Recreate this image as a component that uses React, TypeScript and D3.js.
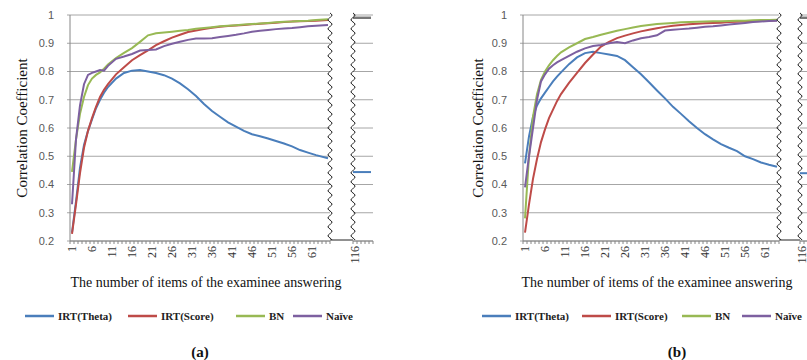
import * as d3 from 'd3'

// items shown left of the axis break (sampled along the curves)
const itemsA = [1, 2, 3, 4, 5, 6, 7, 8, 9, 10, 12, 14, 16, 18, 20, 22, 24, 26, 28, 30, 32, 34, 36, 38, 40, 42, 44, 46, 48, 50, 52, 54, 56, 58, 60, 62, 65]
const itemsB = [1, 2, 3, 4, 5, 6, 7, 8, 9, 10, 12, 14, 16, 18, 20, 22, 24, 26, 28, 30, 32, 34, 36, 38, 40, 42, 44, 46, 48, 50, 52, 54, 56, 58, 60, 62, 64]
// items right of the break
const tailItems = [115, 116, 117, 118, 119, 120]

const thetaA = [0.23, 0.34, 0.46, 0.54, 0.59, 0.63, 0.67, 0.7, 0.725, 0.745, 0.775, 0.795, 0.803, 0.805, 0.8, 0.795, 0.787, 0.775, 0.758, 0.737, 0.713, 0.685, 0.66, 0.64, 0.62, 0.605, 0.59, 0.578, 0.571, 0.563, 0.554, 0.545, 0.535, 0.522, 0.513, 0.504, 0.493]
const scoreA = [0.225, 0.33, 0.44, 0.53, 0.59, 0.635, 0.675, 0.71, 0.735, 0.755, 0.79, 0.815, 0.84, 0.858, 0.875, 0.893, 0.907, 0.92, 0.93, 0.94, 0.945, 0.95, 0.955, 0.958, 0.961, 0.963, 0.965, 0.967, 0.969, 0.971, 0.973, 0.975, 0.977, 0.978, 0.979, 0.98, 0.982]
const bnA = [0.445, 0.56, 0.65, 0.71, 0.752, 0.775, 0.788, 0.797, 0.81, 0.825, 0.848, 0.866, 0.883, 0.905, 0.928, 0.935, 0.938, 0.941, 0.944, 0.947, 0.951, 0.954, 0.957, 0.96, 0.962, 0.964, 0.966, 0.968, 0.97, 0.972, 0.974, 0.976, 0.977, 0.979, 0.98, 0.982, 0.985]
const naiveA = [0.33, 0.56, 0.68, 0.755, 0.788, 0.795, 0.8, 0.805, 0.803, 0.82, 0.845, 0.853, 0.862, 0.874, 0.876, 0.878, 0.89, 0.898, 0.905, 0.912, 0.917, 0.917, 0.918, 0.922, 0.926, 0.93, 0.935, 0.941, 0.944, 0.947, 0.95, 0.952, 0.954, 0.957, 0.96, 0.962, 0.965]

const thetaB = [0.475, 0.57, 0.64, 0.68, 0.705, 0.725, 0.745, 0.765, 0.782, 0.797, 0.826, 0.85, 0.865, 0.87, 0.865, 0.86, 0.855, 0.84, 0.815, 0.79, 0.762, 0.733, 0.705, 0.675, 0.65, 0.624, 0.6, 0.578, 0.56, 0.543, 0.53, 0.518, 0.5, 0.49, 0.478, 0.47, 0.463]
const scoreB = [0.23, 0.33, 0.42, 0.49, 0.55, 0.595, 0.635, 0.665, 0.695, 0.72, 0.76, 0.795, 0.83, 0.86, 0.888, 0.905, 0.918, 0.927, 0.935, 0.942, 0.948, 0.953, 0.958, 0.962, 0.965, 0.967, 0.969, 0.971, 0.972, 0.973, 0.975, 0.976, 0.977, 0.978, 0.979, 0.98, 0.981]
const bnB = [0.28, 0.5, 0.64, 0.72, 0.77, 0.8, 0.822, 0.84, 0.855, 0.868, 0.885, 0.9, 0.915, 0.922, 0.93, 0.937, 0.944, 0.95, 0.956, 0.961, 0.965, 0.968, 0.97, 0.972, 0.974, 0.975, 0.976, 0.977, 0.978, 0.978, 0.979, 0.98, 0.98, 0.981, 0.982, 0.982, 0.983]
const naiveB = [0.39, 0.5, 0.6, 0.7, 0.765, 0.79, 0.81, 0.822, 0.832, 0.84, 0.855, 0.87, 0.882, 0.89, 0.894, 0.9, 0.904, 0.9, 0.91, 0.918, 0.922, 0.928, 0.945, 0.948, 0.95, 0.952, 0.955, 0.958, 0.96, 0.963, 0.966, 0.969, 0.972, 0.975, 0.977, 0.979, 0.98]

const tailThetaA = [0.444, 0.444, 0.444, 0.444, 0.444, 0.444]
const tailThetaB = [0.44, 0.44, 0.44, 0.44, 0.44, 0.44]
const tailHigh = [0.99, 0.99, 0.99, 0.99, 0.99, 0.99]

const yTicks = [0.2, 0.3, 0.4, 0.5, 0.6, 0.7, 0.8, 0.9, 1]
const xTickLabels = [1, 6, 11, 16, 21, 26, 31, 36, 41, 46, 51, 56, 61]
const tailTickLabels = [116]
const seriesNames = ['IRT(Theta)', 'IRT(Score)', 'BN', 'Naïve']
const seriesColors = ['#4a7ebb', '#be4b48', '#98b954', '#7d60a0']

const SERIF = '"Liberation Serif", "DejaVu Serif", serif'
const SANS = '"Liberation Sans", Arial, sans-serif'
const TOP = 15
const BOTTOM = 241

function wavy(x, y0, y1) {
  const pts = d3.range(y0, y1 + 0.5, 1).map((y) => [x + 2 * Math.sin((y - y0) * (2 * Math.PI / 9)), y])
  return d3.line()(pts)
}

function Panel({ id, left, lastItem, breakL, breakR, items, series, tail, tailSeries, yLabelX, titleX, legendX, caption, captionX }) {
  const y = d3.scaleLinear().domain([0.2, 1]).range([BOTTOM, TOP])
  const x = d3.scaleLinear().domain([0.5, lastItem + 0.5]).range([left, breakL])
  const xt = d3.scaleLinear().domain([115.5, 120.5]).range([breakR, breakR + 20])
  const line = (sx) => d3.line().x((d) => sx(d[0])).y((d) => y(d[1]))
  const grid = '#a6a6a6'

  return (
    <g>
      <defs>
        <clipPath id={`${id}-main`}><rect x={left} y={0} width={breakL - left} height={BOTTOM + 1} /></clipPath>
        <clipPath id={`${id}-tail`}><rect x={breakR} y={0} width={20} height={BOTTOM + 1} /></clipPath>
      </defs>

      {yTicks.map((t) => (
        <g key={t}>
          <line x1={left - 3} x2={breakL} y1={y(t)} y2={y(t)} stroke={grid} strokeWidth={1} />
          <line x1={breakR} x2={breakR + 20} y1={y(t)} y2={y(t)} stroke={grid} strokeWidth={1} />
          <text x={left - 16} y={y(t)} dy="0.35em" textAnchor="end" fontFamily={SANS} fontSize={11} fill="#595959">{t}</text>
        </g>
      ))}
      <line x1={left} x2={left} y1={TOP} y2={BOTTOM} stroke="#868686" />
      <line x1={left} x2={breakL} y1={BOTTOM} y2={BOTTOM} stroke="#868686" />
      <line x1={breakR} x2={breakR + 20} y1={BOTTOM} y2={BOTTOM} stroke="#868686" />
      {d3.range(0.5, lastItem + 1, 1).map((v) => (
        <line key={v} x1={x(v)} x2={x(v)} y1={BOTTOM} y2={BOTTOM + 3} stroke="#868686" />
      ))}
      {d3.range(115.5, 121, 1).map((v) => (
        <line key={v} x1={xt(v)} x2={xt(v)} y1={BOTTOM} y2={BOTTOM + 3} stroke="#868686" />
      ))}
      {xTickLabels.map((t) => (
        <text key={t} transform={`translate(${x(t)},${BOTTOM + 5}) rotate(-90)`} textAnchor="end" dy="0.35em" fontFamily={SERIF} fontSize={12} fill="#333">{t}</text>
      ))}
      {tailTickLabels.map((t) => (
        <text key={t} transform={`translate(${xt(t)},${BOTTOM + 5}) rotate(-90)`} textAnchor="end" dy="0.35em" fontFamily={SERIF} fontSize={12} fill="#333">{t}</text>
      ))}

      <g clipPath={`url(#${id}-main)`}>
        {series.map((vals, i) => (
          <path key={i} d={line(x)(items.map((it, j) => [it, vals[j]]))} fill="none" stroke={seriesColors[i]} strokeWidth={2} />
        ))}
      </g>
      <g clipPath={`url(#${id}-tail)`}>
        {tailSeries.map((vals, i) => (
          <path key={i} d={line(xt)(tail.map((it, j) => [it, vals[j]]))} fill="none" stroke={i === 0 ? seriesColors[0] : '#777'} strokeWidth={2} />
        ))}
      </g>

      {/* axis break */}
      <rect x={breakL} y={TOP - 3} width={breakR - breakL} height={BOTTOM - TOP + 3} fill="#fff" />
      <path d={wavy(breakL, TOP - 2, BOTTOM - 1)} fill="none" stroke="#222" strokeWidth={1} />
      <path d={wavy(breakR, TOP - 2, BOTTOM - 1)} fill="none" stroke="#222" strokeWidth={1} />
      <line x1={breakL} x2={breakR} y1={BOTTOM - 1} y2={BOTTOM - 1} stroke="#222" />

      <text transform={`translate(${yLabelX},${(TOP + BOTTOM) / 2}) rotate(-90)`} textAnchor="middle" dy="0.35em" fontFamily={SERIF} fontSize={15} fill="#111">Correlation Coefficient</text>
      <text x={titleX} y={287} textAnchor="middle" fontFamily={SERIF} fontSize={14} fill="#111">The number of items of the examinee answering</text>

      {seriesNames.map((name, i) => (
        <g key={name} transform={`translate(${legendX[i]},316)`}>
          <line x1={0} x2={29} y1={0} y2={0} stroke={seriesColors[i]} strokeWidth={2.5} />
          <text x={33} y={0} dy="0.35em" fontFamily={SERIF} fontSize={11} fontWeight="bold" fill="#222">{name}</text>
        </g>
      ))}
      <text x={captionX} y={357} textAnchor="middle" fontFamily={SERIF} fontSize={15} fontWeight="bold" fill="#111">{caption}</text>
    </g>
  )
}

export default function App() {
  return (
    <>
      <style>{'body{margin:0}'}</style>
      <svg width={807} height={360} style={{ display: 'block', background: '#fff' }}>
        <Panel
          id="pa"
          left={70}
          lastItem={65}
          breakL={330}
          breakR={353}
          items={itemsA}
          series={[thetaA, scoreA, bnA, naiveA]}
          tail={tailItems}
          tailSeries={[tailThetaA, tailHigh, tailHigh, tailHigh]}
          yLabelX={22}
          titleX={206}
          legendX={[25, 128, 236, 293]}
          caption="(a)"
          captionX={200}
        />
        <Panel
          id="pb"
          left={523}
          lastItem={64}
          breakL={779}
          breakR={800}
          items={itemsB}
          series={[thetaB, scoreB, bnB, naiveB]}
          tail={tailItems}
          tailSeries={[tailThetaB, tailHigh, tailHigh, tailHigh]}
          yLabelX={478}
          titleX={657}
          legendX={[482, 582, 682, 742]}
          caption="(b)"
          captionX={677}
        />
      </svg>
    </>
  )
}
